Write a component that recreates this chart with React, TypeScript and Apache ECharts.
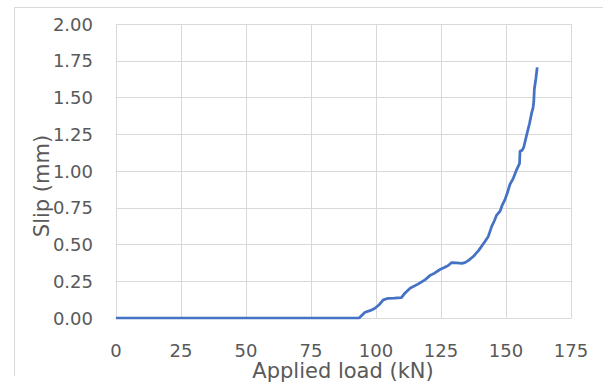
import React, { useEffect, useRef } from "react";
import * as echarts from "echarts";

const loadKN: number[] = [
  0, 93.5, 95.8, 97.7, 99.6, 101.2, 102.8, 104.7, 107, 109.8, 111.1, 113.1, 116.3, 118.8,
  120.8, 122.5, 124.6, 126.5, 128, 129.1, 131, 133, 134.2, 135.5, 137.4, 139.5, 141.9,
  143.2, 144.5, 145.5, 146.4, 147.7, 148.6, 149.6, 150.5, 151.5, 152.8, 154.1, 155.2,
  155.4, 156.2, 156.8, 158, 159, 159.9, 160.4, 160.7, 160.9, 161.5, 162,
];
const slipMM: number[] = [
  0, 0, 0.039, 0.05, 0.066, 0.09, 0.123, 0.134, 0.136, 0.139, 0.169, 0.203, 0.232, 0.259,
  0.29, 0.305, 0.33, 0.345, 0.36, 0.377, 0.375, 0.372, 0.377, 0.39, 0.418, 0.46, 0.52,
  0.555, 0.623, 0.66, 0.7, 0.726, 0.77, 0.805, 0.85, 0.908, 0.95, 1.01, 1.05, 1.135,
  1.14, 1.16, 1.249, 1.32, 1.397, 1.43, 1.476, 1.556, 1.63, 1.705,
];
const xTicks = { min: 0, max: 175, interval: 25 };
const yTicks = { min: 0, max: 2, interval: 0.25 };
const xTitle = "Applied load (kN)";
const yTitle = "Slip (mm)";

export default function App() {
  const ref = useRef<HTMLDivElement>(null);
  useEffect(() => {
    if (!ref.current) return;
    const chart = echarts.init(ref.current, undefined, { renderer: "svg" });
    const grid = "#d9d9d9";
    const textColor = "#595959";
    const font = "DejaVu Sans";
    chart.setOption({
      animation: false,
      backgroundColor: "#ffffff",
      grid: { left: 116, right: 32, top: 24, bottom: 68 },
      xAxis: {
        type: "value",
        min: xTicks.min,
        max: xTicks.max,
        interval: xTicks.interval,
        axisLine: { show: true, lineStyle: { color: grid, width: 1 } },
        axisTick: { show: false },
        splitLine: { show: true, lineStyle: { color: grid, width: 1 } },
        axisLabel: {
          color: textColor,
          fontSize: 18,
          lineHeight: 14,
          fontFamily: font,
          margin: 25,
        },
      },
      yAxis: {
        type: "value",
        min: yTicks.min,
        max: yTicks.max,
        interval: yTicks.interval,
        axisLine: { show: false },
        axisTick: { show: false },
        splitLine: { show: true, lineStyle: { color: grid, width: 1 } },
        axisLabel: {
          color: textColor,
          fontSize: 18,
          fontFamily: font,
          margin: 23,
          formatter: (v: number) => v.toFixed(2),
        },
      },
      series: [
        {
          type: "line",
          data: loadKN.map((x, i) => [x, slipMM[i]]),
          showSymbol: false,
          symbol: "none",
          lineStyle: { color: "#4472C4", width: 2.75 },
          itemStyle: { color: "#4472C4" },
          z: 5,
        },
      ],
      graphic: [
        {
          type: "line",
          shape: { x1: 14.5, y1: 7.5, x2: 603, y2: 7.5 },
          style: { stroke: grid, lineWidth: 1 },
          silent: true,
        },
        {
          type: "line",
          shape: { x1: 14.5, y1: 7.5, x2: 14.5, y2: 376 },
          style: { stroke: grid, lineWidth: 1 },
          silent: true,
        },
        {
          type: "text",
          x: 343,
          y: 371,
          style: {
            text: xTitle,
            fill: textColor,
            fontSize: 21,
            lineHeight: 16,
            fontFamily: font,
            align: "center",
            verticalAlign: "middle",
          },
          z: 10,
        },
        {
          type: "text",
          x: 42,
          y: 186,
          rotation: Math.PI / 2,
          style: {
            text: yTitle,
            fill: textColor,
            fontSize: 21,
            fontFamily: font,
            align: "center",
            verticalAlign: "middle",
          },
          z: 10,
        },
      ],
    });
    return () => chart.dispose();
  }, []);
  return (
    <div
      ref={ref}
      style={{ position: "absolute", left: 0, top: 0, width: 603, height: 386 }}
    />
  );
}
